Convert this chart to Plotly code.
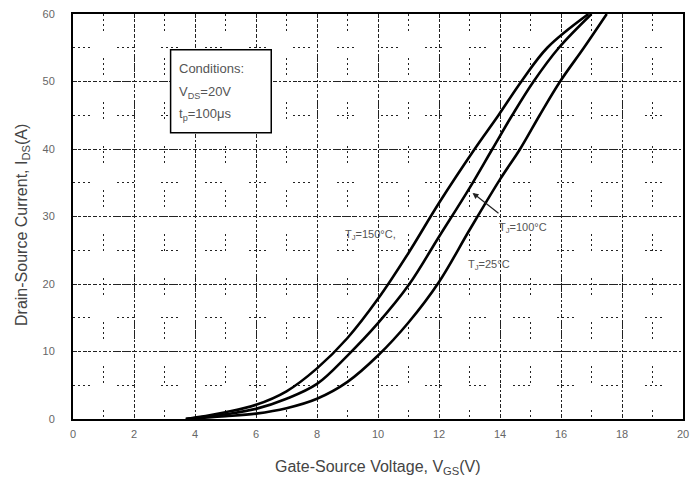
import plotly.graph_objects as go

# ---- data ----
vgs_150 = [3.7, 4, 5, 6, 7, 8, 9, 10, 11, 12, 13.17, 13.95, 14.7, 15.55, 16.9]
ids_150 = [0, 0.2, 1.0, 2.1, 4.1, 7.5, 12.0, 17.8, 24.6, 32, 40, 45, 50, 55, 60]

vgs_100 = [3.7, 4, 5, 6, 7, 8, 9, 10, 11, 12, 13, 13.75, 14.4, 15.1, 15.93, 17.0]
ids_100 = [0, 0.15, 0.7, 1.5, 3.0, 5.2, 9.4, 14.2, 19.8, 27, 34.2, 40, 45, 50, 55, 60]

vgs_25 = [3.7, 4, 5, 6, 7, 8, 9, 10, 11, 12, 13, 14, 14.66, 15.3, 15.97, 16.75, 17.5]
ids_25 = [0, 0.1, 0.4, 0.8, 1.6, 3.0, 5.5, 9.4, 14.3, 20.3, 28, 35.5, 40, 45, 50, 55, 60]

x_ticks = [0, 2, 4, 6, 8, 10, 12, 14, 16, 18, 20]
y_ticks = [0, 10, 20, 30, 40, 50, 60]

FONT = "Liberation Sans, Arial, sans-serif"
GRID = "#222222"

fig = go.Figure()
for xs, ys, name in [(vgs_150, ids_150, "TJ=150°C"), (vgs_100, ids_100, "TJ=100°C"), (vgs_25, ids_25, "TJ=25°C")]:
    fig.add_trace(go.Scatter(x=xs, y=ys, mode="lines", name=name,
                             line=dict(color="black", width=2.6, shape="spline", smoothing=1.0),
                             showlegend=False, cliponaxis=True))

major_dash = "4px,2px,2px,2px"
minor_dash = "2px,3px,2px,3px,2px,3px,2px,27px"

fig.update_xaxes(range=[0, 20], tickvals=x_ticks, ticktext=[str(v) for v in x_ticks],
                 showgrid=True, gridcolor=GRID, gridwidth=1.3, griddash=major_dash,
                 minor=dict(dtick=1, tick0=0, showgrid=True, gridcolor=GRID, gridwidth=1.3, griddash=minor_dash),
                 showline=True, linecolor="black", linewidth=2, mirror=True,
                 ticks="", zeroline=False,
                 tickfont=dict(family=FONT, size=11, color="#666666"), ticklabelstandoff=4)
fig.update_yaxes(range=[0, 60], tickvals=y_ticks, ticktext=[str(v) for v in y_ticks],
                 showgrid=True, gridcolor=GRID, gridwidth=1.3, griddash=major_dash,
                 minor=dict(dtick=5, tick0=0, showgrid=True, gridcolor=GRID, gridwidth=1.3, griddash=minor_dash),
                 showline=True, linecolor="black", linewidth=2, mirror=True,
                 ticks="", zeroline=False,
                 tickfont=dict(family=FONT, size=11, color="#666666"), ticklabelstandoff=14)

# conditions box
fig.add_shape(type="rect", xref="x", yref="y", x0=3.2, x1=6.5, y0=42.4, y1=54.7,
              line=dict(color="black", width=1.5), fillcolor="white", layer="above")

txt = dict(family=FONT, size=13, color="#555555")
fig.add_annotation(x=3.4, y=52.0, xref="x", yref="y", text="Conditions:", showarrow=False,
                   xanchor="left", yanchor="middle", font=txt)
fig.add_annotation(x=3.4, y=48.3, xref="x", yref="y", text="V<sub>DS</sub>=20V", showarrow=False,
                   xanchor="left", yanchor="middle", font=txt)
fig.add_annotation(x=3.4, y=45.1, xref="x", yref="y", text="t<sub>p</sub>=100μs", showarrow=False,
                   xanchor="left", yanchor="middle", font=txt)

lab = dict(family=FONT, size=11, color="#555555")
fig.add_annotation(x=9.75, y=27.3, xref="x", yref="y", text="T<sub>J</sub>=150°C,", showarrow=False,
                   font=lab)
fig.add_annotation(x=14.75, y=28.3, xref="x", yref="y", text="T<sub>J</sub>=100°C", showarrow=False,
                   font=lab)
fig.add_annotation(x=13.65, y=22.8, xref="x", yref="y", text="T<sub>J</sub>=25°C", showarrow=False,
                   font=lab)
# arrow for 100°C label
fig.add_annotation(x=13.1, y=33.5, ax=14.0, ay=30.3, xref="x", yref="y", axref="x", ayref="y",
                   text="", showarrow=True, arrowhead=2, arrowsize=1, arrowwidth=1.2, arrowcolor="#222222")

# axis titles
fig.add_annotation(x=0.5, y=-0.12, xref="paper", yref="paper", showarrow=False,
                   text="Gate-Source Voltage, V<sub>GS</sub>(V)", xanchor="center", yanchor="middle",
                   font=dict(family=FONT, size=16, color="#444444"))
fig.add_annotation(x=-0.083, y=0.48, xref="paper", yref="paper", showarrow=False, textangle=-90,
                   text="Drain-Source Current, I<sub>DS</sub>(A)", xanchor="center", yanchor="middle",
                   font=dict(family=FONT, size=16, color="#444444"))

fig.update_layout(width=696, height=483, margin=dict(l=73, r=7, t=14, b=64),
                  plot_bgcolor="white", paper_bgcolor="white", showlegend=False)

fig.write_html("out.html")
